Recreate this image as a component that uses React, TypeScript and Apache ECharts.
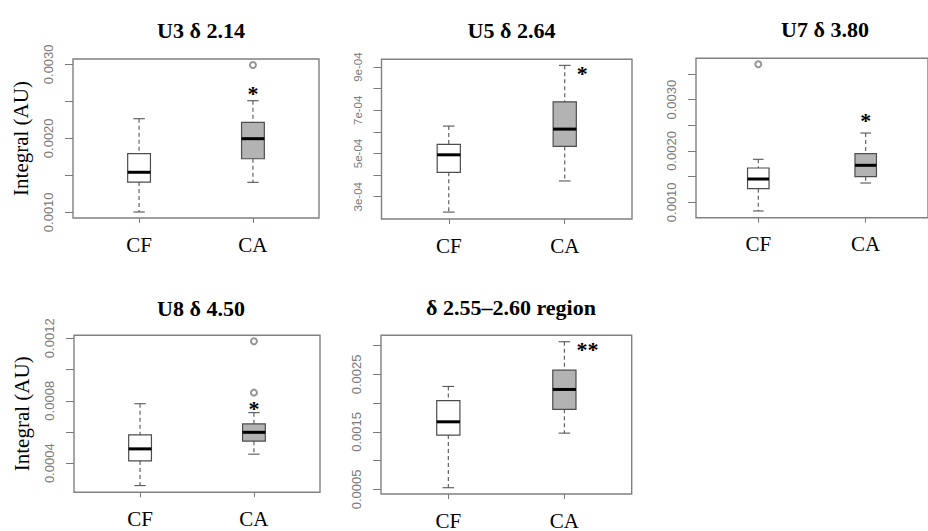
import React, { useEffect, useRef } from "react";
import * as echarts from "echarts";

// Groups on the x axis (positions 1 and 2)
const categories = ["CF", "CA"];

const panelTitles = ["U3 δ 2.14", "U5 δ 2.64", "U7 δ 3.80", "U8 δ 4.50", "δ 2.55–2.60 region"];

// Box statistics per panel: [lower whisker, Q1, median, Q3, upper whisker]
const cfStats = [
  [0.001004, 0.001409, 0.001541, 0.001792, 0.002265],
  [0.000229, 0.000413, 0.000494, 0.000542, 0.000627],
  [0.000831, 0.001265, 0.001454, 0.001668, 0.001838],
  [0.000257, 0.000415, 0.000492, 0.000581, 0.000781],
  [0.000528, 0.001444, 0.001675, 0.002043, 0.00229],
];
const caStats = [
  [0.001405, 0.001724, 0.001995, 0.002216, 0.002508],
  [0.000373, 0.000533, 0.000613, 0.000739, 0.000908],
  [0.001376, 0.001499, 0.001721, 0.001947, 0.00235],
  [0.000458, 0.000541, 0.000598, 0.000652, 0.000724],
  [0.001478, 0.001893, 0.002238, 0.002574, 0.003068],
];

// Outlying points
const cfOutliers = [[], [], [0.003689], [], []];
const caOutliers = [[0.002991], [], [], [0.001181, 0.000852], []];

// Significance markers
const starText = ["*", "*", "*", "*", "**"];
const starX = [2, 2.15, 2, 2, 2.2];
const starY = [0.00265, 0.000886, 0.002657, 0.000767, 0.002988];

// Y ranges and tick values
const yRanges = [
  [0.000923, 0.003072],
  [0.000197, 0.000936],
  [0.0007, 0.003806],
  [0.000214, 0.001219],
  [0.000419, 0.00318],
];
const yTickValues = [
  [0.001, 0.0015, 0.002, 0.0025, 0.003],
  [0.0003, 0.0004, 0.0005, 0.0006, 0.0007, 0.0008, 0.0009],
  [0.001, 0.0015, 0.002, 0.0025, 0.003, 0.0035],
  [0.0004, 0.0006, 0.0008, 0.001, 0.0012],
  [0.0005, 0.001, 0.0015, 0.002, 0.0025, 0.003],
];
const yLabelValues = [
  [0.001, 0.002, 0.003],
  [0.0003, 0.0005, 0.0007, 0.0009],
  [0.001, 0.002, 0.003],
  [0.0004, 0.0008, 0.0012],
  [0.0005, 0.0015, 0.0025],
];
const yLabelStyle = ["fixed", "sci", "fixed", "fixed", "fixed"];
const yAxisNames = ["Integral (AU)", "", "", "Integral (AU)", ""];

// Panel layout (pixels)
const grids = [
  { left: 73, top: 59, width: 246, height: 159 },
  { left: 381.5, top: 59.3, width: 250.5, height: 159.7 },
  { left: 696, top: 58.3, width: 248, height: 159.4 },
  { left: 74, top: 335.3, width: 246, height: 157 },
  { left: 381, top: 335.3, width: 250.7, height: 159.7 },
];
const titlePos = [
  { x: 196, y: 14 },
  { x: 506.5, y: 14 },
  { x: 820, y: 13 },
  { x: 196, y: 292 },
  { x: 506, y: 291 },
];

const SERIF = "'Liberation Serif', 'Times New Roman', serif";
const SANS = "'Liberation Sans', Arial, sans-serif";
const AXIS_GREY = "#7a7a7a";

function fmtLabel(v: number, style: string): string {
  if (style === "sci") return `${Math.round(v * 1e4)}e-04`;
  return v.toFixed(4);
}

// Box, median, dashed whiskers and caps for one group
function renderBox(params: any, api: any) {
  const x = api.value(0);
  const lo = api.value(1);
  const q1 = api.value(2);
  const med = api.value(3);
  const q3 = api.value(4);
  const hi = api.value(5);
  const filled = api.value(6) === 1;
  const hw = 0.1;
  const cw = 0.05;
  const xl = api.coord([x - hw, q3])[0];
  const xr = api.coord([x + hw, q3])[0];
  const xc = api.coord([x, q3])[0];
  const xcl = api.coord([x - cw, q3])[0];
  const xcr = api.coord([x + cw, q3])[0];
  const yHi = api.coord([x, hi])[1];
  const yQ3 = api.coord([x, q3])[1];
  const yMed = api.coord([x, med])[1];
  const yQ1 = api.coord([x, q1])[1];
  const yLo = api.coord([x, lo])[1];
  const whisker = { stroke: "#555", lineWidth: 1.1, lineDash: [4, 3] };
  const cap = { stroke: "#555", lineWidth: 1.1 };
  return {
    type: "group",
    children: [
      { type: "line", shape: { x1: xc, y1: yHi, x2: xc, y2: yQ3 }, style: whisker },
      { type: "line", shape: { x1: xc, y1: yQ1, x2: xc, y2: yLo }, style: whisker },
      { type: "line", shape: { x1: xcl, y1: yHi, x2: xcr, y2: yHi }, style: cap },
      { type: "line", shape: { x1: xcl, y1: yLo, x2: xcr, y2: yLo }, style: cap },
      {
        type: "rect",
        shape: { x: xl, y: yQ3, width: xr - xl, height: yQ1 - yQ3 },
        style: { fill: filled ? "#b3b3b3" : "#ffffff", stroke: "#4d4d4d", lineWidth: 1.2 },
      },
      { type: "line", shape: { x1: xl, y1: yMed, x2: xr, y2: yMed }, style: { stroke: "#000", lineWidth: 3 } },
    ],
  };
}

// Significance asterisks
function renderStar(params: any, api: any) {
  const pt = api.coord([api.value(0), api.value(1)]);
  return {
    type: "text",
    x: pt[0],
    y: pt[1] + 3,
    style: {
      text: starText[params.seriesIndex ? Math.floor(params.seriesIndex / 3) : 0],
      fill: "#000",
      font: `bold 22px ${SERIF}`,
      align: "center",
      verticalAlign: "middle",
    },
  };
}

function buildOption() {
  const grid: any[] = [];
  const xAxis: any[] = [];
  const yAxis: any[] = [];
  const series: any[] = [];
  const title: any[] = [];

  panelTitles.forEach((t, i) => {
    grid.push({
      ...grids[i],
      show: true,
      borderColor: "#808080",
      borderWidth: 1.4,
      backgroundColor: "transparent",
    });
    title.push({
      text: t,
      left: titlePos[i].x,
      top: titlePos[i].y,
      textAlign: "center",
      textStyle: { fontFamily: SERIF, fontWeight: "bold", fontSize: 22, color: "#000" },
    });
    xAxis.push({
      gridIndex: i,
      type: "value",
      min: 0.42,
      max: 2.58,
      splitLine: { show: false },
      axisLine: { show: false },
      axisTick: { show: true, customValues: [1, 2], length: 5, lineStyle: { color: AXIS_GREY } },
      axisLabel: {
        customValues: [1, 2],
        formatter: (v: number) => categories[Math.round(v) - 1] ?? "",
        fontFamily: SERIF,
        fontSize: 21,
        color: "#000",
        margin: 16,
      },
    });
    const style = yLabelStyle[i];
    yAxis.push({
      gridIndex: i,
      type: "value",
      min: yRanges[i][0],
      max: yRanges[i][1],
      splitLine: { show: false },
      axisLine: { show: false },
      axisTick: { show: true, customValues: yTickValues[i], length: 8, lineStyle: { color: AXIS_GREY } },
      axisLabel: {
        customValues: yLabelValues[i],
        formatter: (v: number) => fmtLabel(v, style),
        rotate: 90,
        fontFamily: SANS,
        fontSize: style === "sci" ? 11.5 : 13,
        color: AXIS_GREY,
        margin: 18,
      },
      name: yAxisNames[i],
      nameLocation: "middle",
      nameGap: 42,
      nameTextStyle: { fontFamily: SERIF, fontSize: 21, color: "#000" },
    });

    series.push({
      type: "custom",
      xAxisIndex: i,
      yAxisIndex: i,
      renderItem: renderBox,
      data: [
        [1, ...cfStats[i], 0],
        [2, ...caStats[i], 1],
      ],
      z: 2,
    });
    const outliers = [
      ...cfOutliers[i].map((v) => [1, v]),
      ...caOutliers[i].map((v) => [2, v]),
    ];
    series.push({
      type: "scatter",
      xAxisIndex: i,
      yAxisIndex: i,
      symbol: "emptyCircle",
      symbolSize: 6,
      itemStyle: { color: "#7a7a7a", borderWidth: 1 },
      data: outliers,
      z: 3,
    });
    series.push({
      type: "custom",
      xAxisIndex: i,
      yAxisIndex: i,
      renderItem: renderStar,
      data: [[starX[i], starY[i]]],
      z: 4,
    });
  });

  return { animation: false, backgroundColor: "#ffffff", title, grid, xAxis, yAxis, series };
}

export default function App() {
  const ref = useRef<HTMLDivElement>(null);
  useEffect(() => {
    if (!ref.current) return;
    const chart = echarts.init(ref.current, undefined, { renderer: "svg" });
    chart.setOption(buildOption() as any);
    return () => chart.dispose();
  }, []);
  return (
    <div
      ref={ref}
      style={{ position: "absolute", left: 0, top: 0, width: 928, height: 531, background: "#fff" }}
    />
  );
}
